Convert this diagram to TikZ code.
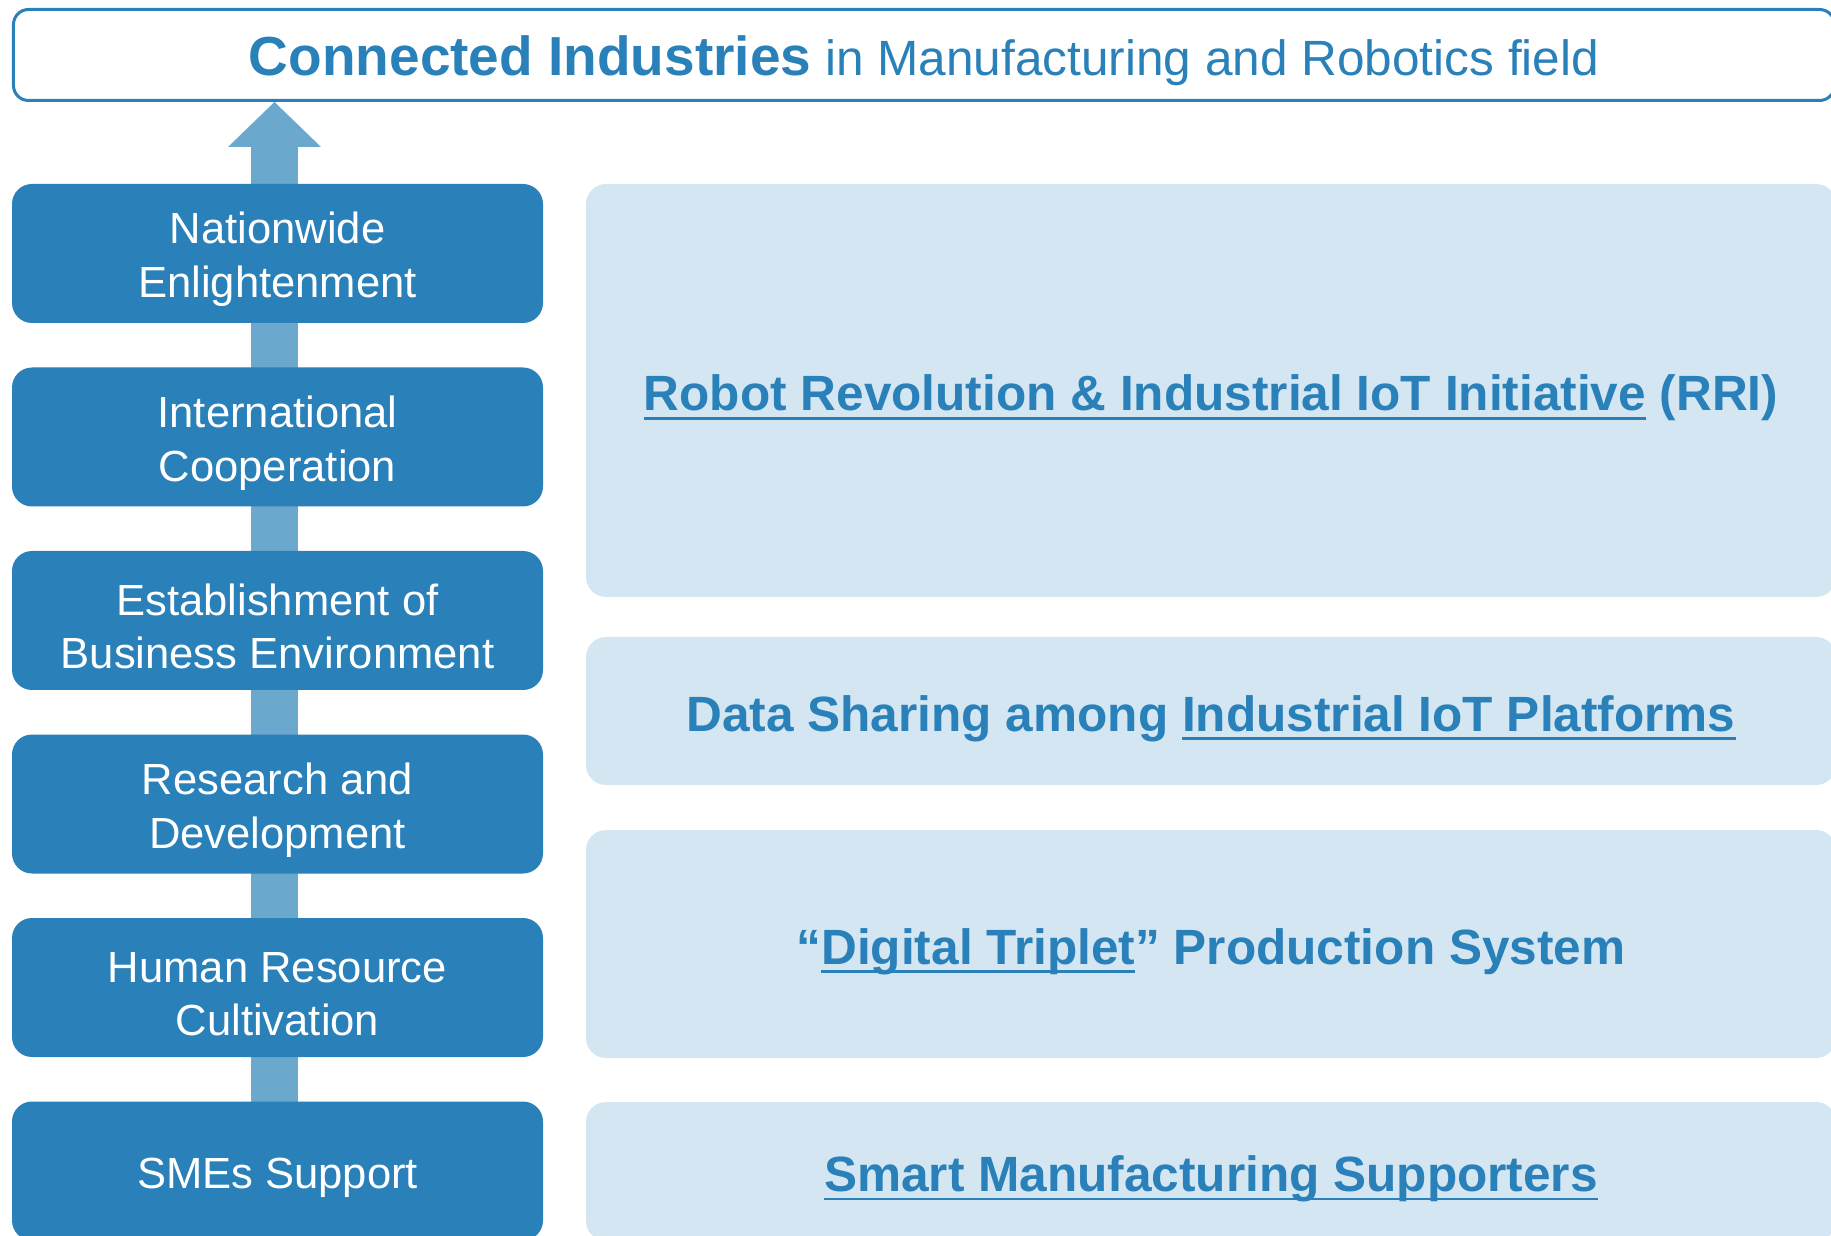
\documentclass[tikz,border=0pt]{standalone}
\usepackage{fontspec}
\setmainfont{Liberation Sans}
\usepackage{xcolor}
\usepackage{tikz}
\usetikzlibrary{arrows.meta,positioning,backgrounds}

\definecolor{ciblue}{HTML}{2A80B9}
\definecolor{cipale}{HTML}{D4E6F2}
\definecolor{citrunk}{HTML}{6BA8CE}
\newsavebox{\ciulbox}
\newcommand{\ciul}[1]{\sbox{\ciulbox}{#1}\rlap{\rule[-5.1pt]{\wd\ciulbox}{1.7pt}}\usebox{\ciulbox}}
\newcommand{\ciup}{\rule{0pt}{1em}}

\begin{document}
\begin{tikzpicture}[
        font=\fontsize{24.8}{30.6}\selectfont,
        node distance=0.89cm,
        banner/.style={rectangle,rounded corners=0.3cm,draw=ciblue,line width=0.06cm,minimum width=36.42cm,minimum height=1.82cm,text=ciblue,font=\fontsize{28.2}{34}\selectfont,execute at begin node={\rule{0pt}{29.4pt}}},
        pillar/.style={rectangle,rounded corners=0.4cm,fill=ciblue,text=white,minimum width=10.62cm,minimum height=2.78cm,align=center,outer sep=0pt},
        field/.style={rectangle,rounded corners=0.4cm,fill=cipale,text=ciblue,minimum width=25cm,align=center,outer sep=0pt,font=\fontsize{28.2}{34}\selectfont\bfseries,execute at begin node={\rule{0pt}{1.02em}}},
        trunk/.style={draw=citrunk,line width=0.94cm,-{Triangle[length=0.9cm,width=1.86cm,line width=0pt]}}
    ]
        \useasboundingbox (0,0) rectangle (36.62,-24.72);
        \clip (0,0) rectangle (36.62,-24.72);

        \node[banner] (title) at (18.48,-1.1) {{\fontsize{31.3}{36}\selectfont\bfseries Connected Industries} in Manufacturing and Robotics field};

        \node[pillar] (enlight) at (5.55,-5.07) {\ciup Nationwide\\Enlightenment};
        \node[pillar,below=of enlight] (intl) {\ciup International\\Cooperation};
        \node[pillar,below=of intl] (envir) {\ciup Establishment of\\Business Environment};
        \node[pillar,below=of envir] (rnd) {\ciup Research and\\Development};
        \node[pillar,below=of rnd] (hr) {\ciup Human Resource\\Cultivation};
        \node[pillar,below=of hr] (smes) {\ciup SMEs Support};

        \node[field,minimum height=8.26cm,anchor=north west] (rri) at (11.72,-3.68) {\ciul{Robot Revolution \& Industrial IoT Initiative} (RRI)};
        \node[field,minimum height=2.96cm,below=0.8cm of rri] (iotdata) {Data Sharing among \ciul{Industrial IoT Platforms}};
        \node[field,minimum height=4.56cm,below=0.9cm of iotdata] (triplet) {“\ciul{Digital Triplet}” Production System};
        \node[field,minimum height=2.78cm,below=0.88cm of triplet] (supporters) {\ciul{Smart Manufacturing Supporters}};

        \begin{scope}[on background layer]
            \draw[trunk] ([xshift=-0.06cm]smes.north) -- ([xshift=-0.06cm]smes.north |- title.south);
        \end{scope}
    \end{tikzpicture}
\end{document}
